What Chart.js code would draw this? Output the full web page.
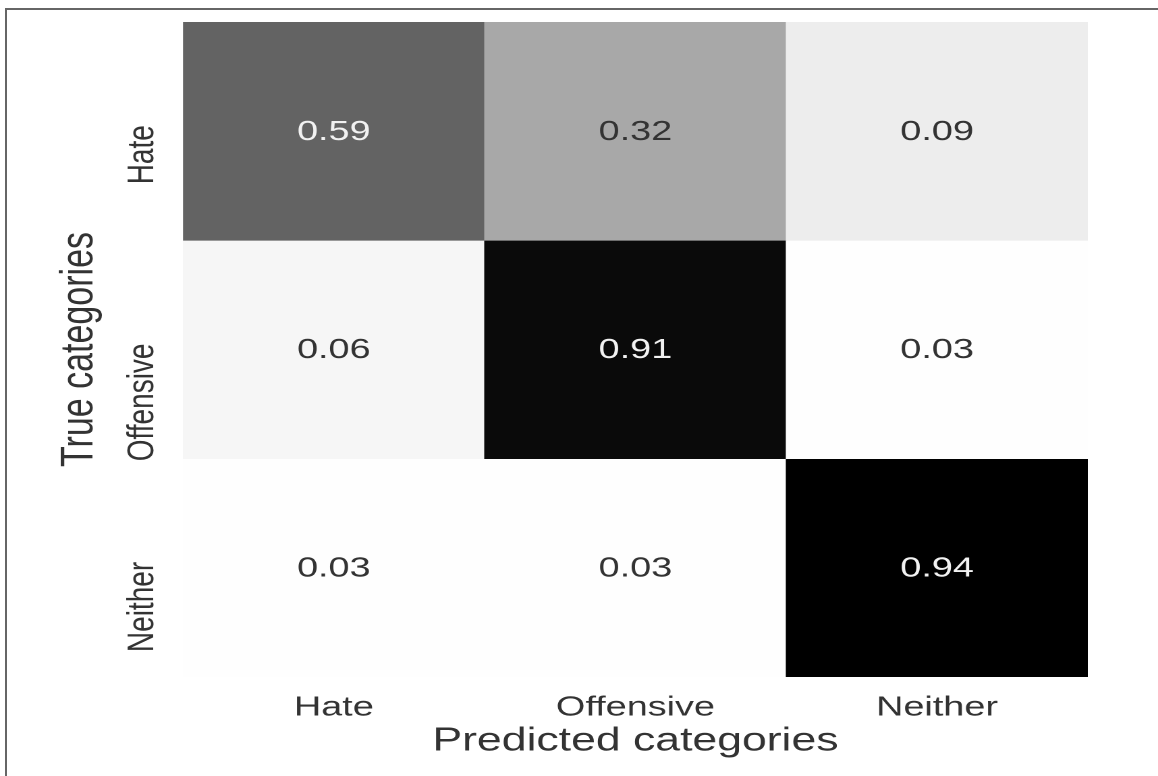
<!DOCTYPE html>
<html>
<head>
<meta charset="utf-8">
<script src="https://cdn.jsdelivr.net/npm/chart.js@4.4.1/dist/chart.umd.min.js"></script>
<style>
  html, body { margin: 0; padding: 0; background: #fff; overflow: hidden; }
  #frame {
    position: absolute; left: 5px; top: 8px; width: 1300px; height: 900px;
    border-left: 2px solid #666; border-top: 2px solid #666;
  }
  /* the original figure is stretched sideways, so draw narrow and stretch */
  #wrap {
    position: absolute; left: 0; top: 0; width: 858px; height: 776px;
    transform: scaleX(1.3497); transform-origin: 0 0;
  }
</style>
</head>
<body>
<div id="frame"></div>
<div id="wrap"><canvas id="cm"></canvas></div>
<script>
const predictedLabels = ['Hate', 'Offensive', 'Neither'];
const trueLabels = ['Hate', 'Offensive', 'Neither'];

// rows = true category, columns = predicted category
const hateRow = [0.59, 0.32, 0.09];
const offensiveRow = [0.06, 0.91, 0.03];
const neitherRow = [0.03, 0.03, 0.94];
const rows = [hateRow, offensiveRow, neitherRow];

const FONT = "'Liberation Sans', Arial, sans-serif";

// grey levels
const greyStops = [[0, 255], [0.03, 254], [0.06, 246], [0.09, 237], [0.32, 168], [0.59, 99], [0.91, 10], [0.94, 0], [1, 0]];
function greyFor(v) {
  for (let k = 1; k < greyStops.length; k++) {
    const [v0, g0] = greyStops[k - 1];
    const [v1, g1] = greyStops[k];
    if (v <= v1) {
      const g = Math.round(g0 + (g1 - g0) * (v - v0) / (v1 - v0));
      return `rgb(${g},${g},${g})`;
    }
  }
  return 'rgb(0,0,0)';
}

const cellText = {
  id: 'cellText',
  afterDatasetsDraw(chart) {
    const ctx = chart.ctx;
    ctx.save();
    ctx.font = `28px ${FONT}`;
    ctx.textAlign = 'center';
    ctx.textBaseline = 'middle';
    rows.forEach((row, i) => {
      chart.getDatasetMeta(i).data.forEach((bar, j) => {
        ctx.fillStyle = row[j] > 0.5 ? '#f2f2f2' : '#333333';
        ctx.fillText(row[j].toFixed(2), bar.x, (bar.y + bar.base) / 2 + 1);
      });
    });
    ctx.restore();
  }
};

const rowLabels = {
  id: 'rowLabels',
  afterDraw(chart) {
    const ctx = chart.ctx;
    const y = chart.scales.y;
    ctx.save();
    ctx.font = `28px ${FONT}`;
    ctx.fillStyle = '#333333';
    ctx.textAlign = 'right';
    ctx.textBaseline = 'alphabetic';
    trueLabels.forEach((lab, i) => {
      ctx.save();
      ctx.translate(113.3, y.getPixelForValue(i + 0.5) - 6);
      ctx.rotate(-Math.PI / 2);
      ctx.fillText(lab, 0, 0);
      ctx.restore();
    });
    ctx.restore();
  }
};

new Chart(document.getElementById('cm'), {
  type: 'bar',
  data: {
    labels: predictedLabels,
    datasets: rows.map((row, i) => ({
      label: trueLabels[i],
      data: row.map(() => [i, i + 1]),
      backgroundColor: row.map(greyFor),
      borderWidth: 0,
      grouped: false,
      barPercentage: 1,
      categoryPercentage: 1
    }))
  },
  options: {
    responsive: true,
    maintainAspectRatio: false,
    animation: false,
    devicePixelRatio: 2,
    layout: { padding: { left: 0, top: 22, right: 52, bottom: 0 } },
    plugins: { legend: { display: false }, tooltip: { enabled: false } },
    scales: {
      x: {
        grid: { display: false },
        border: { display: false },
        ticks: { color: '#333333', font: { family: FONT, size: 28 }, padding: 6 },
        title: {
          display: true, text: 'Predicted categories', color: '#333333',
          font: { family: FONT, size: 33 }, padding: { top: 0, bottom: 15 }
        },
        afterFit(scale) { scale.height = 99; }
      },
      y: {
        min: 0, max: 3, reverse: true,
        grid: { display: false },
        border: { display: false },
        ticks: { display: false },
        title: {
          display: true, text: 'True categories', color: '#333333',
          font: { family: FONT, size: 34 }, padding: { top: 38.5, bottom: 0 }
        },
        afterFit(scale) { scale.width = 135.6; }
      }
    }
  },
  plugins: [cellText, rowLabels]
});
</script>
</body>
</html>
